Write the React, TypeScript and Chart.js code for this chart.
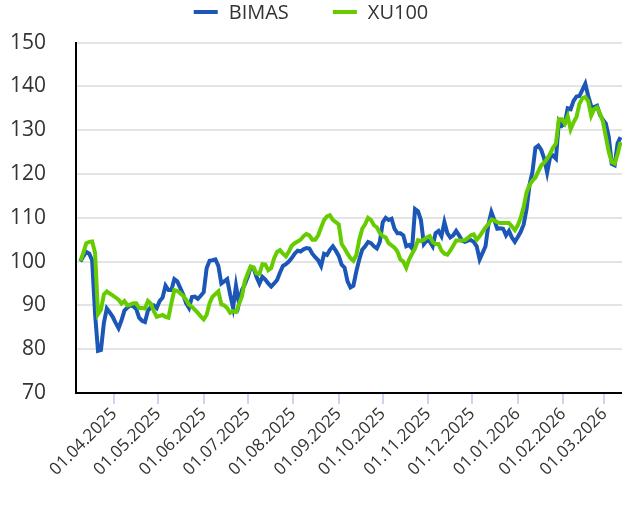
import React, { useEffect, useRef } from "react";
import { Chart, registerables } from "chart.js";

Chart.register(...registerables);

// ---- data ----
const seriesLabels = ["BIMAS", "XU100"];
const seriesColors = ["#1c57b8", "#66cc00"];
const firstDate = "2025-03-09";
const stepDays = 2;
const axisStart = "2025-03-06";
const axisEnd = "2026-03-13";
const tickLabels = [
  "01.04.2025", "01.05.2025", "01.06.2025", "01.07.2025", "01.08.2025", "01.09.2025",
  "01.10.2025", "01.11.2025", "01.12.2025", "01.01.2026", "01.02.2026", "01.03.2026",
];
const yTicks = [70, 80, 90, 100, 110, 120, 130, 140, 150];

const bimas = [
  100, 101.2, 102.2, 101.8, 100.3, 88, 79.6, 79.8, 86, 89.3,
  88.4, 87.4, 86, 84.8, 86.6, 88.8, 89.5, 90, 89.8, 89.2,
  87.2, 86.5, 86.2, 88.8, 89.6, 90, 89.4, 91, 91.8, 94.5,
  93.5, 93.5, 96, 95.5, 94, 92.5, 90.5, 89.4, 91.9, 92,
  91.5, 92.2, 93, 98.5, 100.2, 100.3, 100.5, 99, 95, 95.5,
  96, 92.5, 89.5, 94.5, 90.5, 93.5, 94.8, 96.5, 98.7, 98.5,
  96.5, 95, 96.5, 95.9, 95, 94.3, 95, 95.8, 97.5, 99,
  99.4, 100, 100.8, 101.8, 102.5, 102.3, 102.8, 103.1, 103, 101.8,
  101, 100.3, 99, 101.8, 101.5, 102.7, 103.5, 102.5, 101.3, 99.3,
  98.6, 95.5, 94.1, 94.5, 97.8, 100.5, 102.7, 103.5, 104.5, 104.2,
  103.5, 103, 104.5, 109, 110, 109.5, 109.8, 107.5, 106.5, 106.5,
  106, 103.5, 103.8, 103, 112, 111.5, 109.5, 104, 104.8, 104.6,
  103.5, 106.5, 107, 105.8, 109, 106.5, 105.5, 106, 107, 106,
  104.8, 104.5, 104.8, 104.9, 104.5, 103.5, 100.5, 102, 103.5, 108.5,
  111.3, 109.5, 107.5, 107.6, 107.5, 106, 107, 105.5, 104.5, 105.6,
  106.8, 108.5, 112, 117.5, 120.5, 126, 126.5, 125.5, 123.5, 120.3,
  123.8, 124.2, 123.5, 132, 131, 131.5, 135, 134.8, 136.7, 137.7,
  137.8, 139.2, 140.6, 137.8, 135.5, 135.3, 135.6, 133.5, 132.4, 131.5,
  128.5, 122.3, 122, 127, 128.4,
];

const xu100 = [
  100.2, 102, 104.2, 104.5, 104.6, 102, 88, 89, 92.5, 93.2,
  92.7, 92.3, 91.8, 91.3, 90.4, 91, 90, 90.2, 90.5, 90.5,
  89.4, 89.4, 89.3, 91, 90.4, 88.7, 87.4, 87.6, 87.8, 87.4,
  87.2, 90.5, 93.5, 93.3, 92.8, 92.2, 91.3, 90.2, 89.7, 89,
  88.3, 87.5, 86.8, 87.8, 90.5, 92, 92.6, 93.2, 90.2, 90,
  89.4, 88.3, 88.7, 88.5, 90.3, 92, 95.5, 97.3, 98.9, 98.7,
  97.3, 97.2, 99.4, 99.3, 98, 98.5, 100.8, 102.2, 102.6, 101.8,
  101.2, 102.3, 103.6, 104.2, 104.6, 105, 105.8, 106.3, 106, 105,
  105, 106, 107.8, 109.5, 110.3, 110.6, 109.5, 109, 108.5, 104,
  103, 101.8, 100.8, 100.2, 101.5, 105, 107.5, 108.5, 110, 109.5,
  108.3, 107.8, 106.5, 105.8, 105.5, 104.2, 103.7, 103.2, 102.3, 100.5,
  100, 98.6, 100.5, 101.8, 103, 104.9, 104.7, 105, 105.5, 105.8,
  104.5, 104, 104, 102.5, 101.8, 101.6, 102.5, 103.6, 104.8, 104.8,
  104.8, 104.9, 105.4, 106, 106.2, 105, 105.8, 106.8, 107.8, 108.6,
  109.6, 109.4, 109, 108.8, 108.8, 108.8, 108.8, 108, 107.2, 108.3,
  110, 112.5, 115.8, 117.5, 118.5, 119.2, 120.6, 122, 122.6, 123.5,
  124.6, 126, 127, 132.5, 132.5, 131.5, 133.2, 130.2, 131.8, 133,
  136, 137.3, 137.6, 136.6, 133.3, 134.8, 135.2, 133.8, 132, 128.5,
  125, 122.7, 122.4, 124.5, 127.3,
];

// ---- helpers ----
const DAY = 86400000;
const isoDay = (iso: string) => Date.parse(iso + "T00:00:00Z") / DAY;
const labelDay = (lbl: string) => {
  const [d, m, y] = lbl.split(".");
  return isoDay(`${y}-${m}-${d}`);
};
const toPoints = (vals: number[]) =>
  vals.map((v, i) => ({ x: isoDay(firstDate) + i * stepDays, y: v }));

const FONT = '"Open Sans", "Noto Sans", sans-serif';
const TEXT = "#333333";

const legendPlugin = {
  id: "customLegend",
  afterDraw(chart: any) {
    const ctx = chart.ctx as CanvasRenderingContext2D;
    ctx.save();
    ctx.font = `20px ${FONT}`;
    const boxW = 24, gap = 11, itemGap = 44, y = 12;
    const widths = seriesLabels.map((l) => boxW + gap + ctx.measureText(l).width);
    const total = widths.reduce((a, b) => a + b, 0) + itemGap * (widths.length - 1);
    let x = chart.width / 2 - total / 2;
    seriesLabels.forEach((l, i) => {
      ctx.fillStyle = seriesColors[i];
      ctx.fillRect(x, y - 2, boxW, 4);
      ctx.fillStyle = TEXT;
      ctx.textBaseline = "middle";
      ctx.textAlign = "left";
      ctx.fillText(l, x + boxW + gap, y + 1);
      x += widths[i] + itemGap;
    });
    ctx.restore();
  },
};

export default function App() {
  const ref = useRef<HTMLCanvasElement | null>(null);
  useEffect(() => {
    if (!ref.current) return;
    const tickDays = tickLabels.map(labelDay);
    const chart = new Chart(ref.current, {
      type: "line",
      data: {
        datasets: [
          {
            label: seriesLabels[0],
            data: toPoints(bimas),
            borderColor: seriesColors[0],
            backgroundColor: seriesColors[0],
            borderWidth: 4,
            pointRadius: 0,
            tension: 0,
            order: 2,
          },
          {
            label: seriesLabels[1],
            data: toPoints(xu100),
            borderColor: seriesColors[1],
            backgroundColor: seriesColors[1],
            borderWidth: 4,
            pointRadius: 0,
            tension: 0,
            order: 1,
          },
        ],
      },
      options: {
        responsive: false,
        devicePixelRatio: 1,
        animation: false,
        layout: { padding: { top: 37, left: 0, right: 0, bottom: 0 } },
        plugins: {
          legend: { display: false },
          tooltip: { enabled: false },
        },
        scales: {
          x: {
            type: "linear",
            min: isoDay(axisStart),
            max: isoDay(axisEnd),
            afterBuildTicks: (scale: any) => {
              scale.ticks = tickDays.map((v) => ({ value: v }));
            },
            afterFit: (scale: any) => {
              scale.height = 122;
            },
            ticks: {
              autoSkip: false,
              minRotation: 45,
              maxRotation: 45,
              padding: 0,
              color: TEXT,
              font: { family: FONT, size: 17 },
              callback: (_v: any, i: number) => tickLabels[i],
            },
            grid: {
              drawOnChartArea: false,
              drawTicks: true,
              tickLength: 11,
              color: "#c9d7ee",
              lineWidth: 2,
            },
            border: { display: true, color: "#000000", width: 2 },
          },
          y: {
            min: yTicks[0],
            max: yTicks[yTicks.length - 1],
            afterBuildTicks: (scale: any) => {
              scale.ticks = yTicks.map((v) => ({ value: v }));
            },
            afterFit: (scale: any) => {
              scale.width = 76;
            },
            ticks: {
              padding: 30,
              color: TEXT,
              font: { family: FONT, size: 21 },
            },
            grid: { color: "#e4e4e4", lineWidth: 2, drawTicks: false },
            border: { display: true, color: "#000000", width: 2 },
          },
        },
      },
      plugins: [legendPlugin],
    } as any);
    return () => chart.destroy();
  }, []);
  return (
    <div style={{ position: "fixed", left: 0, top: 0, width: 622, height: 515, background: "#fff" }}>
      <canvas ref={ref} width={622} height={515} />
    </div>
  );
}
